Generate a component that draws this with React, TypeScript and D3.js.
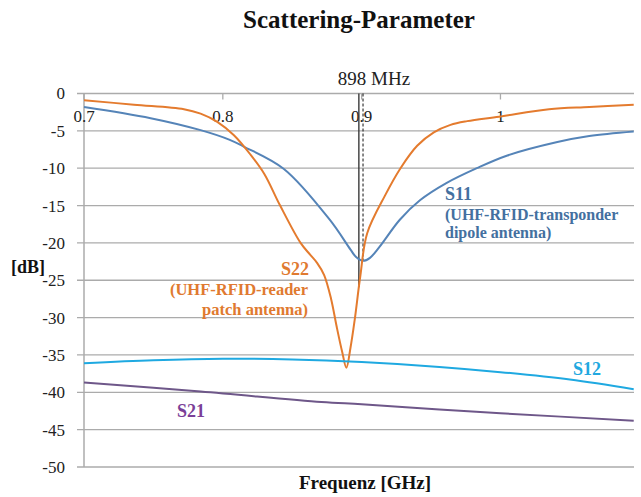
import * as d3 from 'd3';

const FONT = '"Liberation Serif", "Times New Roman", serif';

// frequency in GHz, value in dB
const S11_FREQ = [0.7, 0.748, 0.784, 0.805, 0.815, 0.844, 0.877, 0.892, 0.896, 0.901, 0.906, 0.913, 0.9275, 0.942, 0.961, 0.983, 1.005, 1.041, 1.064, 1.096];
const S11_DB = [-1.8, -3.3, -4.9, -6.2, -7.1, -10.1, -16.9, -20.9, -21.9, -22.4, -22.0, -20.5, -16.9, -14.3, -12.0, -10.0, -8.3, -6.5, -5.7, -5.1];

const S22_FREQ = [0.7, 0.736, 0.772, 0.784, 0.796, 0.808, 0.82, 0.83, 0.841, 0.856, 0.863, 0.868, 0.873, 0.878, 0.882, 0.886, 0.889, 0.892, 0.895, 0.899, 0.904, 0.917, 0.928, 0.94, 0.952, 0.964, 0.976, 0.999, 1.035, 1.064, 1.096];
const S22_DB = [-0.9, -1.5, -2.1, -2.7, -3.8, -5.6, -8.2, -10.8, -14.9, -20.0, -21.6, -22.7, -24.3, -27.5, -31.2, -34.6, -36.7, -34.0, -30.3, -24.5, -18.7, -13.6, -10.0, -7.0, -5.2, -4.2, -3.7, -3.1, -2.1, -1.8, -1.5];

const S12_FREQ = [0.7, 0.75, 0.8, 0.85, 0.9, 0.956, 1.0, 1.05, 1.096];
const S12_DB = [-36.1, -35.7, -35.5, -35.6, -35.95, -36.6, -37.3, -38.3, -39.6];

const S21_FREQ = [0.7, 0.784, 0.871, 0.9, 0.956, 1.0, 1.096];
const S21_DB = [-38.7, -39.9, -41.3, -41.6, -42.3, -42.8, -43.8];

const X_TICKS = [0.7, 0.8, 0.9, 1];
const Y_TICKS = [0, -5, -10, -15, -20, -25, -30, -35, -40, -45, -50];

const MARKER_SOLID = 0.898;
const MARKER_DASHED = 0.901;

type Pt = [number, number];
const zip = (f: number[], v: number[]): Pt[] => f.map((x, i) => [x, v[i]]);

const series = [
  { name: 'S11', pts: zip(S11_FREQ, S11_DB), color: '#5584b8' },
  { name: 'S22', pts: zip(S22_FREQ, S22_DB), color: '#e47b2e' },
  { name: 'S12', pts: zip(S12_FREQ, S12_DB), color: '#1fa9e1' },
  { name: 'S21', pts: zip(S21_FREQ, S21_DB), color: '#6e5789' },
];

export default function App() {
  const width = 641;
  const height = 497;
  const x = d3.scaleLinear().domain([0.7, 1.0962]).range([84, 634]);
  const y = d3.scaleLinear().domain([-50, 0]).range([467, 93.5]);
  const line = d3.line<Pt>().x(d => x(d[0])).y(d => y(d[1])).curve(d3.curveCatmullRom.alpha(0.5));

  const interp = (pts: Pt[], f: number) => {
    const i = pts.findIndex(p => p[0] >= f);
    const a = pts[i - 1], b = pts[i];
    return a[1] + (b[1] - a[1]) * (f - a[0]) / (b[0] - a[0]);
  };

  const [x0, x1] = x.range();

  return (
    <svg width={width} height={height} style={{ position: 'absolute', left: 0, top: 0, background: '#fff', fontFamily: FONT }}>
      <text x={359} y={28} textAnchor="middle" fontSize={25} fontWeight="bold" fill="#111">Scattering-Parameter</text>

      {Y_TICKS.map(t => (
        <g key={t}>
          <line x1={x0 - 7} x2={x1} y1={y(t)} y2={y(t)} stroke="#ababab" strokeWidth={1.3} />
          <text x={65} y={y(t)} dy="0.35em" textAnchor="end" fontSize={17} fill="#222">{t}</text>
        </g>
      ))}
      <line x1={x0} x2={x0} y1={y(0)} y2={y(-50)} stroke="#ababab" strokeWidth={1.5} />

      {X_TICKS.map(t => (
        <g key={t}>
          <line x1={x(t)} x2={x(t)} y1={y(0)} y2={y(0) + 6} stroke="#ababab" strokeWidth={1.3} />
          <text x={x(t)} y={122} textAnchor="middle" fontSize={17} fill="#222">{t === 1 ? '1' : t.toFixed(1)}</text>
        </g>
      ))}

      <line x1={x(MARKER_SOLID)} x2={x(MARKER_SOLID)} y1={y(0)} y2={y(interp(series[1].pts, MARKER_SOLID))} stroke="#3a3a3a" strokeWidth={1.4} />
      <line x1={x(MARKER_DASHED)} x2={x(MARKER_DASHED)} y1={y(0)} y2={y(-22.4)} stroke="#111" strokeWidth={1} strokeDasharray="3,2" />
      <text x={374} y={85} textAnchor="middle" fontSize={19} fill="#222">898 MHz</text>

      {series.map(s => (
        <path key={s.name} d={line(s.pts) ?? ''} fill="none" stroke={s.color} strokeWidth={2} />
      ))}

      <g fontWeight="bold" fill="#44709f">
        <text x={445} y={200} fontSize={18}>S11</text>
        <text x={445} y={220} fontSize={16}>(UHF-RFID-transponder</text>
        <text x={445} y={238} fontSize={16}>dipole antenna)</text>
      </g>
      <g fontWeight="bold" fill="#e07a30" textAnchor="end">
        <text x={309} y={275} fontSize={18}>S22</text>
        <text x={308} y={295} fontSize={16.5}>(UHF-RFID-reader</text>
        <text x={308} y={315} fontSize={16.5}>patch antenna)</text>
      </g>
      <text x={573} y={375} fontSize={18} fontWeight="bold" fill="#21a8e0">S12</text>
      <text x={177} y={417} fontSize={18} fontWeight="bold" fill="#7b3f98">S21</text>

      <text x={11} y={273} fontSize={18} fontWeight="bold" fill="#111">[dB]</text>
      <text x={365} y={489} textAnchor="middle" fontSize={19} fontWeight="bold" fill="#111">Frequenz [GHz]</text>
    </svg>
  );
}
